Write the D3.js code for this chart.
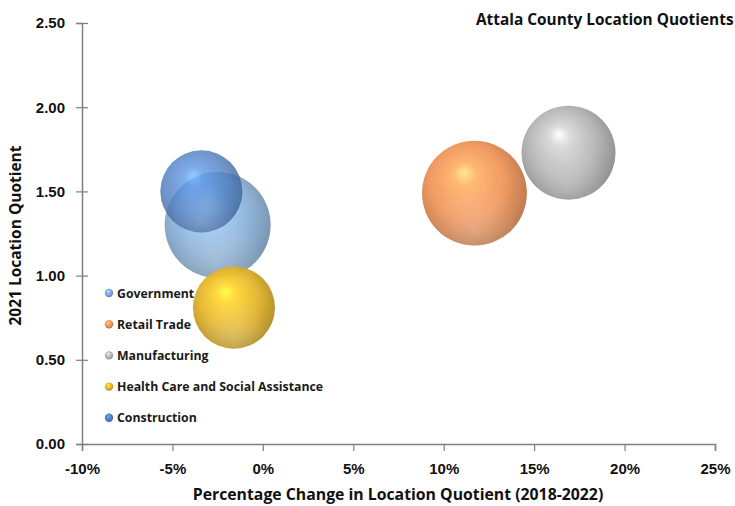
<!DOCTYPE html>
<html>
<head>
<meta charset="utf-8">
<script src="https://cdn.jsdelivr.net/npm/d3@7"></script>
<style>
  body { margin: 0; background: #fff; }
  svg { display: block; font-family: "Open Sans", Lato, sans-serif; }
</style>
</head>
<body>
<div id="chart"></div>
<script>
// data
const sectors = ["Government", "Retail Trade", "Manufacturing", "Health Care and Social Assistance", "Construction"];
const pctChange = [-2.5, 11.7, 16.9, -1.6, -3.4];      // % change in LQ 2018-2022
const lq2021 = [1.30, 1.49, 1.73, 0.81, 1.50];           // 2021 location quotient
const bubbleSize = [1400, 1370, 1100, 840, 840];         // bubble size (employment)
const colors = ["#7fa9d3", "#f0955a", "#b4b4b4", "#e3b42c", "#4f7fc2"];
const opacities = [0.85, 0.95, 0.95, 0.95, 0.8];
const xTicks = [-10, -5, 0, 5, 10, 15, 20, 25];
const yTicks = [0, 0.5, 1.0, 1.5, 2.0, 2.5];

const width = 735, height = 506;
const margin = { top: 23, right: 20, bottom: 62, left: 82 };

const svg = d3.select("#chart").append("svg")
  .attr("width", width)
  .attr("height", height);

const x = d3.scaleLinear().domain([-10, 25]).range([margin.left, width - margin.right]);
const y = d3.scaleLinear().domain([0, 2.5]).range([height - margin.bottom, margin.top]);
const r = d3.scaleSqrt().domain([0, d3.max(bubbleSize)]).range([0, 53]);

// gradients for the 3D look
const defs = svg.append("defs");
colors.forEach((c, i) => {
  const base = d3.color(c);
  const g = defs.append("radialGradient")
    .attr("id", "ball" + i)
    .attr("cx", "0.45").attr("cy", "0.45").attr("r", "0.6")
    .attr("fx", "0.4").attr("fy", "0.3");
  g.append("stop").attr("offset", "0%").attr("stop-color", base.brighter(1.2).formatHex());
  g.append("stop").attr("offset", "20%").attr("stop-color", base.brighter(0.5).formatHex());
  g.append("stop").attr("offset", "60%").attr("stop-color", base.formatHex());
  g.append("stop").attr("offset", "100%").attr("stop-color", base.darker(0.8).formatHex());
});
const shine = defs.append("radialGradient")
  .attr("id", "rim").attr("cx", "0.5").attr("cy", "0.85").attr("r", "0.45");
shine.append("stop").attr("offset", "0%").attr("stop-color", "#fff").attr("stop-opacity", 0.22);
shine.append("stop").attr("offset", "100%").attr("stop-color", "#fff").attr("stop-opacity", 0);

// axes
const xAxis = svg.append("g")
  .attr("transform", `translate(0,${y(0)})`)
  .call(d3.axisBottom(x).tickValues(xTicks).tickSize(7).tickPadding(12).tickFormat(d => d + "%"));

const yAxis = svg.append("g")
  .attr("transform", `translate(${x(-10)},0)`)
  .call(d3.axisLeft(y).tickValues(yTicks).tickSize(6).tickPadding(11).tickFormat(d3.format(".2f")));
yAxis.selectAll(".tick line").attr("x2", 6).attr("x1", -6);

[xAxis, yAxis].forEach(a => {
  a.select(".domain").attr("stroke", "#7f7f7f").attr("stroke-width", 1.5);
  a.selectAll(".tick line").attr("stroke", "#7f7f7f").attr("stroke-width", 1.2);
  a.selectAll(".tick text")
    .attr("fill", "#111")
    .style("font-size", "15px")
    .style("font-weight", "bold");
});

// bubbles
const points = sectors.map((s, i) => ({ name: s, x: pctChange[i], y: lq2021[i], size: bubbleSize[i], i: i }));

const bubbles = svg.append("g").selectAll("g")
  .data(points)
  .enter()
  .append("g")
  .attr("opacity", d => opacities[d.i]);

bubbles.append("circle")
  .attr("cx", d => x(d.x))
  .attr("cy", d => y(d.y))
  .attr("r", d => r(d.size))
  .attr("fill", d => `url(#ball${d.i})`);

bubbles.append("circle")
  .attr("cx", d => x(d.x))
  .attr("cy", d => y(d.y))
  .attr("r", d => r(d.size))
  .attr("fill", "url(#rim)");

// legend
const legend = svg.append("g")
  .attr("transform", "translate(109,293)");

sectors.forEach((s, i) => {
  const row = legend.append("g")
    .attr("transform", `translate(0,${i * 31.2})`);
  row.append("circle")
    .attr("r", 4.2)
    .attr("fill", `url(#ball${i})`);
  row.append("text")
    .attr("x", 8)
    .attr("y", 4.5)
    .style("font-size", "12.3px")
    .style("font-weight", "bold")
    .attr("fill", "#1a1a1a")
    .text(s);
});

// titles
svg.append("text")
  .attr("x", 476)
  .attr("y", 25)
  .style("font-size", "15.4px")
  .style("font-weight", "bold")
  .attr("fill", "#111")
  .text("Attala County Location Quotients");

svg.append("text")
  .attr("x", 398)
  .attr("y", 500)
  .attr("text-anchor", "middle")
  .style("font-size", "15.8px")
  .style("font-weight", "bold")
  .attr("fill", "#111")
  .text("Percentage Change in Location Quotient (2018-2022)");

svg.append("text")
  .attr("transform", `translate(21,${(y(0) + y(2.5)) / 2 + 2}) rotate(-90)`)
  .attr("text-anchor", "middle")
  .style("font-size", "15.5px")
  .style("font-weight", "bold")
  .attr("fill", "#111")
  .text("2021 Location Quotient");
</script>
</body>
</html>
